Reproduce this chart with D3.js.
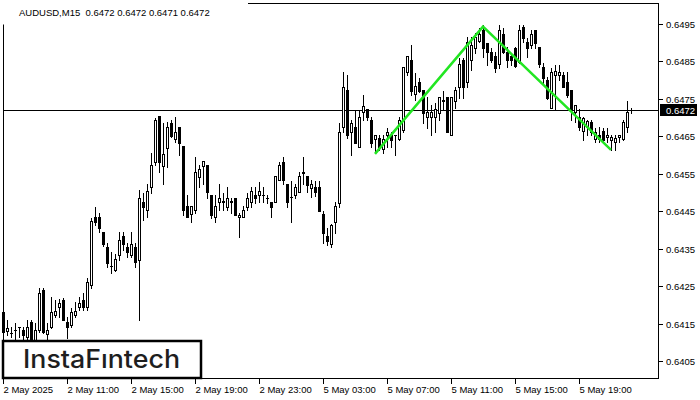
<!DOCTYPE html>
<html><head><meta charset="utf-8">
<script src="https://cdn.jsdelivr.net/npm/d3@7"></script>
<style>body{margin:0;background:#fff}svg{display:block}</style>
</head><body><svg id="c" width="700" height="400"></svg>
<script>
const chartTitle = "AUDUSD,M15  0.6472 0.6472 0.6471 0.6472";
const open = [0.64181,0.64130,0.64125,0.64133,0.64141,0.64133,0.64115,0.64154,0.64106,0.64133,
0.64239,0.64122,0.64141,0.64173,0.64193,0.64213,0.64155,0.64146,0.64173,0.64193,
0.64213,0.64195,0.64253,0.64435,0.64435,0.64394,0.64355,0.64305,0.64293,0.64333,
0.64384,0.64355,0.64333,0.64355,0.64321,0.64475,0.64453,0.64514,0.64582,0.64704,
0.64571,0.64618,0.64685,0.64642,0.64674,0.64624,0.64464,0.64442,0.64453,0.64542,
0.64571,0.64573,0.64493,0.64434,0.64475,0.64475,0.64462,0.64476,0.64484,0.64434,
0.64434,0.64462,0.64475,0.64493,0.64493,0.64493,0.64484,0.64475,0.64475,0.64533,
0.64582,0.64523,0.64487,0.64493,0.64502,0.64553,0.64544,0.64513,0.64515,0.64515,
0.64442,0.64384,0.64362,0.64422,0.64473,0.64676,0.64774,0.64662,0.64676,0.64622,
0.64716,0.64722,0.64694,0.64642,0.64645,0.64615,0.64653,0.64653,0.64653,0.64642,
0.64667,0.64823,0.64854,0.64763,0.64796,0.64774,0.64702,0.64702,0.64702,0.64713,
0.64745,0.64754,0.64653,0.64744,0.64782,0.64854,0.64796,0.64854,0.64885,0.64904,
0.64934,0.64898,0.64876,0.64865,0.64842,0.64922,0.64876,0.64865,0.64885,0.64849,
0.64943,0.64903,0.64894,0.64934,0.64889,0.64836,0.64800,0.64725,0.64814,0.64814,
0.64814,0.64794,0.64774,0.64716,0.64702,0.64665,0.64676,0.64689,0.64642,0.64653,
0.64665,0.64647,0.64640,0.64636,0.64649,0.64642,0.64674,0.64720];
const high = [0.64186,0.64159,0.64141,0.64151,0.64142,0.64141,0.64159,0.64159,0.64151,0.64245,
0.64245,0.64151,0.64222,0.64213,0.64215,0.64217,0.64168,0.64191,0.64208,0.64222,
0.64231,0.64272,0.64432,0.64462,0.64444,0.64395,0.64364,0.64342,0.64337,0.64395,
0.64395,0.64364,0.64395,0.64364,0.64507,0.64498,0.64524,0.64605,0.64699,0.64704,
0.64685,0.64689,0.64694,0.64702,0.64676,0.64624,0.64493,0.64464,0.64596,0.64573,
0.64584,0.64573,0.64493,0.64493,0.64523,0.64498,0.64514,0.64484,0.64484,0.64444,
0.64464,0.64498,0.64514,0.64514,0.64529,0.64514,0.64493,0.64475,0.64544,0.64582,
0.64596,0.64523,0.64531,0.64524,0.64555,0.64594,0.64544,0.64533,0.64531,0.64531,
0.64451,0.64404,0.64416,0.64475,0.64685,0.64823,0.64814,0.64694,0.64720,0.64720,
0.64760,0.64722,0.64702,0.64653,0.64653,0.64653,0.64671,0.64662,0.64654,0.64702,
0.64834,0.64864,0.64894,0.64818,0.64805,0.64774,0.64756,0.64734,0.64738,0.64754,
0.64772,0.64754,0.64754,0.64782,0.64860,0.64860,0.64916,0.64916,0.64925,0.64938,
0.64947,0.64898,0.64885,0.64876,0.64947,0.64938,0.64889,0.64872,0.64889,0.64947,
0.64947,0.64912,0.64934,0.64934,0.64889,0.64845,0.64809,0.64832,0.64840,0.64840,
0.64823,0.64823,0.64774,0.64734,0.64722,0.64702,0.64694,0.64694,0.64671,0.64676,
0.64671,0.64671,0.64653,0.64653,0.64653,0.64694,0.64744,0.64726];
const low = [0.64117,0.64119,0.64114,0.64106,0.64114,0.64106,0.64106,0.64106,0.64100,0.64127,
0.64125,0.64106,0.64138,0.64168,0.64168,0.64159,0.64111,0.64141,0.64168,0.64186,
0.64186,0.64186,0.64245,0.64413,0.64395,0.64357,0.64302,0.64284,0.64291,0.64320,
0.64346,0.64328,0.64328,0.64302,0.64159,0.64426,0.64435,0.64498,0.64573,0.64555,
0.64524,0.64569,0.64649,0.64636,0.64600,0.64440,0.64434,0.64422,0.64444,0.64514,
0.64523,0.64484,0.64431,0.64422,0.64453,0.64453,0.64453,0.64444,0.64440,0.64382,
0.64434,0.64453,0.64462,0.64471,0.64475,0.64475,0.64471,0.64434,0.64475,0.64533,
0.64524,0.64462,0.64422,0.64484,0.64502,0.64524,0.64502,0.64489,0.64491,0.64451,
0.64364,0.64360,0.64354,0.64393,0.64462,0.64662,0.64645,0.64600,0.64633,0.64622,
0.64694,0.64694,0.64622,0.64605,0.64613,0.64605,0.64622,0.64622,0.64600,0.64640,
0.64662,0.64814,0.64760,0.64747,0.64769,0.64685,0.64671,0.64653,0.64662,0.64694,
0.64720,0.64662,0.64653,0.64725,0.64753,0.64753,0.64782,0.64827,0.64872,0.64903,
0.64863,0.64840,0.64849,0.64823,0.64832,0.64872,0.64836,0.64840,0.64836,0.64845,
0.64903,0.64863,0.64885,0.64885,0.64836,0.64792,0.64751,0.64725,0.64720,0.64800,
0.64782,0.64756,0.64694,0.64689,0.64667,0.64640,0.64653,0.64653,0.64636,0.64636,
0.64636,0.64636,0.64613,0.64613,0.64636,0.64640,0.64662,0.64712];
const close = [0.64127,0.64138,0.64126,0.64134,0.64140,0.64119,0.64141,0.64106,0.64133,0.64232,
0.64128,0.64133,0.64181,0.64184,0.64204,0.64159,0.64141,0.64181,0.64184,0.64204,
0.64195,0.64262,0.64425,0.64422,0.64404,0.64362,0.64311,0.64304,0.64322,0.64373,
0.64362,0.64342,0.64362,0.64315,0.64484,0.64462,0.64505,0.64573,0.64694,0.64582,
0.64603,0.64676,0.64651,0.64662,0.64631,0.64453,0.64434,0.64464,0.64555,0.64563,
0.64584,0.64502,0.64440,0.64464,0.64484,0.64476,0.64484,0.64475,0.64440,0.64440,
0.64453,0.64484,0.64505,0.64484,0.64505,0.64494,0.64485,0.64462,0.64544,0.64573,
0.64533,0.64475,0.64488,0.64515,0.64544,0.64554,0.64520,0.64523,0.64502,0.64451,
0.64393,0.64371,0.64412,0.64464,0.64662,0.64782,0.64653,0.64685,0.64633,0.64702,
0.64731,0.64702,0.64633,0.64653,0.64621,0.64642,0.64662,0.64640,0.64654,0.64694,
0.64834,0.64864,0.64772,0.64784,0.64772,0.64713,0.64716,0.64716,0.64722,0.64754,
0.64746,0.64662,0.64754,0.64774,0.64842,0.64782,0.64903,0.64894,0.64916,0.64922,
0.64885,0.64876,0.64854,0.64833,0.64934,0.64876,0.64854,0.64854,0.64839,0.64934,
0.64912,0.64885,0.64922,0.64898,0.64842,0.64805,0.64753,0.64823,0.64824,0.64823,
0.64782,0.64760,0.64722,0.64734,0.64674,0.64698,0.64692,0.64662,0.64662,0.64642,
0.64640,0.64653,0.64649,0.64645,0.64653,0.64689,0.64716,0.64720];
const timeTickIndex = [0,16,32,48,64,80,96,112,128,144];
const timeTickLabels = ["2 May 2025","2 May 11:00","2 May 15:00","2 May 19:00","2 May 23:00",
  "5 May 03:00","5 May 07:00","5 May 11:00","5 May 15:00","5 May 19:00"];
const priceTicks = [0.6405,0.6415,0.6425,0.6435,0.6445,0.6455,0.6465,0.6475,0.6485,0.6495];
const currentPrice = 0.6472;
const patternIndex = [93,120,152];
const patternPrice = [0.64603,0.64943,0.64614];
const logoText = "InstaF\u0131ntech";

const svg = d3.select("#c");
const n = open.length;
const x = d3.scaleLinear().domain([0, n - 1]).range([3, 631]);
const y = d3.scaleLinear().domain([0.6405, 0.6495]).range([361, 24]);
const px = v => Math.round(v) + 0.5;
const font = "'Liberation Sans', Arial, sans-serif";

// current price line (behind candles)
svg.append("line").attr("x1", 3).attr("x2", 658).attr("y1", px(y(currentPrice))).attr("y2", px(y(currentPrice)))
  .attr("stroke", "#000").attr("stroke-width", 1);

// candles
const idx = d3.range(n);
const g = svg.append("g");
g.selectAll("line.w").data(idx).join("line")
  .attr("x1", i => Math.round(x(i)) + 0.5).attr("x2", i => Math.round(x(i)) + 0.5)
  .attr("y1", i => Math.round(y(high[i]))).attr("y2", i => Math.round(y(low[i])) + 1)
  .attr("stroke", "#000").attr("stroke-width", 1);
g.selectAll("rect.b").data(idx).join("rect")
  .attr("x", i => Math.round(x(i)) - 0.5)
  .attr("y", i => px(y(Math.max(open[i], close[i]))))
  .attr("width", 2)
  .attr("height", i => Math.max(0.01, px(y(Math.min(open[i], close[i]))) - px(y(Math.max(open[i], close[i])))))
  .attr("fill", i => close[i] >= open[i] ? "#fff" : "#000")
  .attr("stroke", "#000").attr("stroke-width", 1);

// pattern line
svg.append("path").datum(patternIndex.map((d, k) => [d, patternPrice[k]]))
  .attr("d", d3.line().x(d => x(d[0])).y(d => y(d[1])))
  .attr("fill", "none").attr("stroke", "#22e622").attr("stroke-width", 2.5);

// frame
svg.append("rect").attr("x", 3.5).attr("y", 3.5).attr("width", 655).attr("height", 375)
  .attr("fill", "none").attr("stroke", "#000");

// title cover & title
svg.append("rect").attr("x", 0).attr("y", 0).attr("width", 248).attr("height", 24.5).attr("fill", "#fff");
svg.append("text").attr("x", 19).attr("y", 15.5).attr("font-family", font).attr("font-size", 9.5)
  .attr("fill", "#000").attr("xml:space", "preserve").style("white-space", "pre").text(chartTitle);

// y axis
const ya = svg.append("g");
ya.selectAll("line").data(priceTicks).join("line")
  .attr("x1", 659).attr("x2", 663).attr("y1", d => px(y(d))).attr("y2", d => px(y(d))).attr("stroke", "#000");
ya.selectAll("text").data(priceTicks).join("text")
  .attr("x", 666).attr("y", d => Math.round(y(d)) + 3.5).attr("font-family", font).attr("font-size", 9.5)
  .attr("fill", "#000").text(d => d3.format(".4f")(d));

// current price label
const cy = Math.round(y(currentPrice));
svg.append("rect").attr("x", 660).attr("y", cy - 6).attr("width", 37).attr("height", 12).attr("fill", "#000");
svg.append("text").attr("x", 666).attr("y", cy + 3.5).attr("font-family", font).attr("font-size", 9.5)
  .attr("fill", "#fff").text(d3.format(".4f")(currentPrice));

// x axis
const xa = svg.append("g");
xa.selectAll("line").data(timeTickIndex).join("line")
  .attr("x1", i => Math.round(x(i)) + 0.5).attr("x2", i => Math.round(x(i)) + 0.5)
  .attr("y1", 379).attr("y2", 384).attr("stroke", "#000");
xa.selectAll("text").data(timeTickIndex).join("text")
  .attr("x", i => Math.round(x(i)) + 0.5).attr("y", 393).attr("font-family", font).attr("font-size", 9.5)
  .attr("fill", "#000").text((d, k) => timeTickLabels[k]);

// logo
svg.append("rect").attr("x", 3).attr("y", 341).attr("width", 198).attr("height", 37)
  .attr("fill", "#fff").attr("stroke", "#000").attr("stroke-width", 2.5);
svg.append("text").attr("x", 23).attr("y", 368).attr("font-family", "Inter, 'Open Sans', sans-serif")
  .attr("font-size", 25).attr("font-weight", 500).attr("fill", "#1e1e1e")
  .attr("textLength", 157).attr("lengthAdjust", "spacingAndGlyphs").text(logoText);
</script></body></html>
